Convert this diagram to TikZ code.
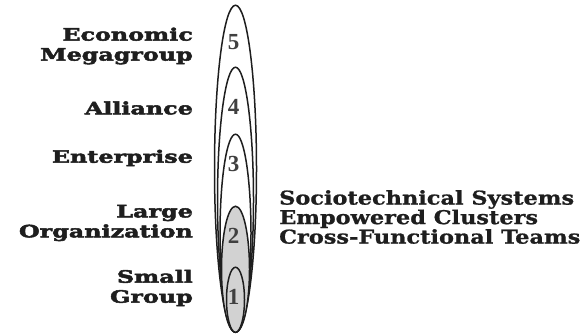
\documentclass[tikz,border=0pt]{standalone}
\usepackage{fontspec}
\setmainfont{DejaVu Serif}
\newfontfamily\heavyfont[FakeStretch=1.4,FakeBold=3]{DejaVu Serif Bold}
\newfontfamily\clusterfont[FakeStretch=1.18,FakeBold=1]{DejaVu Serif Bold}
\newfontfamily\digitfont{Liberation Serif Bold}
\usetikzlibrary{shapes.geometric}
\definecolor{scink}{HTML}{1E1E1E}
\definecolor{scshade}{HTML}{D2D2D2}
\tikzset{
  ring/.style={draw=scink, ellipse, inner sep=0pt, line width=1.5pt, anchor=south},
  tier/.style={font=\heavyfont\fontsize{17}{20}\selectfont, text=scink, align=right, anchor=east, inner sep=0pt},
  num/.style={font=\digitfont\fontsize{23}{23}\selectfont, text=scink!85, inner sep=1pt},
  team/.style={font=\clusterfont\fontsize{19}{19.5}\selectfont, text=scink, align=left, anchor=west, inner sep=0pt},
}
\begin{document}
\begin{tikzpicture}[x=1pt,y=-1pt]
  \useasboundingbox (0,0) rectangle (585,336);
  \coordinate (base) at (235.5,333);
  % nested rings, outermost first
  \foreach \n/\w/\h/\f in {5/42/327/white,4/36/265/white,3/31/198/white,2/28/126/scshade,1/18/65/scshade}
    { \node[ring, fill=\f, minimum width=\w pt, minimum height=\h pt] (ring\n) at (base) {}; }
  \foreach \n/\y in {5/42,4/107,3/164,2/236,1/297}
    { \node[num] (num\n) at (233.5,\y) {\n}; }
  \node[tier] (mega) at (193,46) {Economic\\Megagroup};
  \node[tier] (alliance) at (193,108) {Alliance};
  \node[tier] (enterprise) at (193,158) {Enterprise};
  \node[tier] (large) at (193,223) {Large\\Organization};
  \node[tier] (small) at (193,288) {Small\\Group};
  \node[team] (teams) at (279,217) {Sociotechnical Systems\\Empowered Clusters\\Cross-Functional Teams};
\end{tikzpicture}
\end{document}
